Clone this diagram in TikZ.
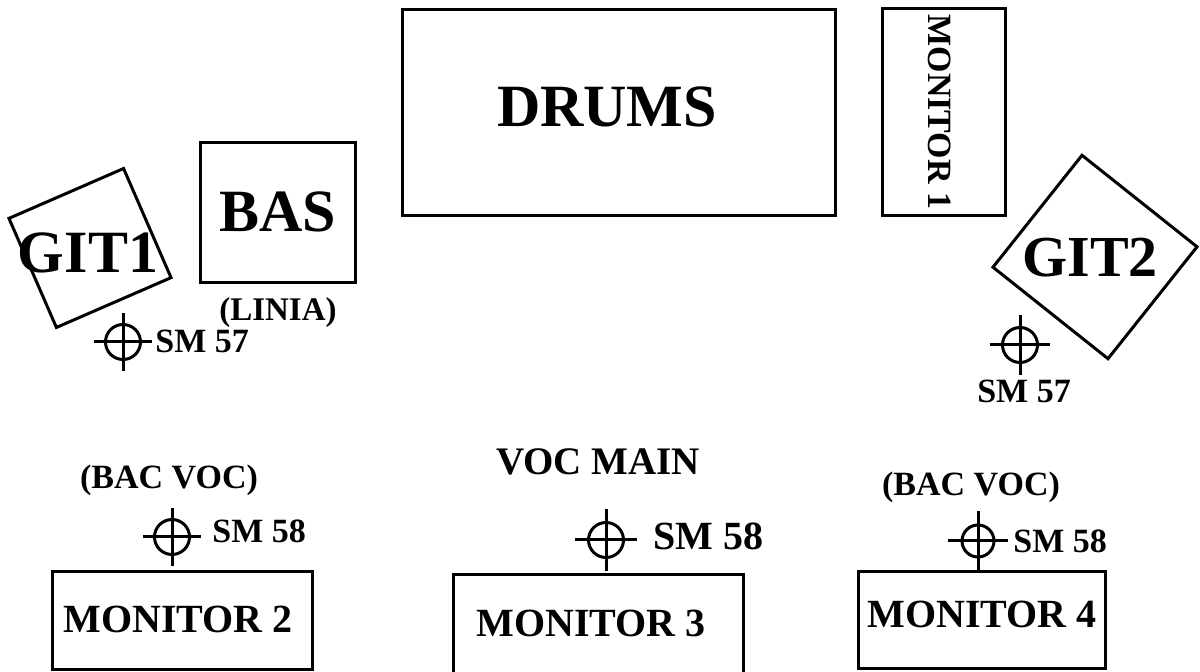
\documentclass[tikz,border=0pt]{standalone}
\usepackage{fontspec}
\setmainfont{Liberation Serif}
\begin{document}
\begin{tikzpicture}[x=0.5pt,y=-0.5pt,
  box/.style={draw, line width=1.5pt, inner sep=0pt, outer sep=0pt},
  fs/.style={font=\fontsize{#1}{#1}\selectfont\bfseries, inner sep=0pt, anchor=base},
  mic/.style={draw, circle, line width=1.5pt, minimum size=#1, inner sep=0pt},
  mic/.default=17.5pt,
  hair/.style={line width=1.5pt}]
\useasboundingbox (0,0) rectangle (1200,672);
% boxes
\node[box, minimum width=216.5pt, minimum height=103pt] (drums) at (618.5,113) {};
\node[box, minimum width=61.5pt, minimum height=103.5pt] (mon1) at (943.5,112.5) {};
\node[box, minimum width=77.5pt, minimum height=70pt] (bas) at (277.5,213) {};
\node[box, minimum width=62.5pt, minimum height=59.5pt, rotate=23.5] (git1) at (90,248) {};
\node[box, minimum width=73.5pt, minimum height=71.5pt, rotate=-38.5] (git2) at (1095,257) {};
\node[box, minimum width=130pt, minimum height=49pt] (mon2) at (182,621) {};
\node[box, minimum width=145pt, minimum height=57.5pt] (mon3) at (598,632.5) {};
\node[box, minimum width=123.5pt, minimum height=48.5pt] (mon4) at (981.5,620.5) {};
% labels
\node[fs=30pt] (drumsT) at (607,127) {DRUMS};
\node[fs=30pt] (git1T) at (88,273) {GIT1};
\node[fs=30pt] (basT) at (278,232) {BAS};
\node[fs=29pt] (git2T) at (1090,277) {GIT2};
\node[fs=16.5pt] (liniaT) at (278,321) {(LINIA)};
\node[fs=17pt, anchor=center, rotate=-90] (mon1T) at (940,112) {MONITOR 1};
\node[fs=17pt, anchor=base west] (sm57a) at (155,353) {SM 57};
\node[fs=17pt] (sm57b) at (1024,403) {SM 57};
\node[fs=17pt] (bac1) at (169,489) {(BAC VOC)};
\node[fs=17pt, anchor=base west] (sm58a) at (212,543) {SM 58};
\node[fs=19.5pt] (vocmain) at (598,475) {VOC MAIN};
\node[fs=20pt, anchor=base west] (sm58b) at (653,550) {SM 58};
\node[fs=17pt] (bac2) at (971,496) {(BAC VOC)};
\node[fs=17pt, anchor=base west] (sm58c) at (1013,553) {SM 58};
\node[fs=20pt] (mon2T) at (178,633) {MONITOR 2};
\node[fs=20pt] (mon3T) at (591,637) {MONITOR 3};
\node[fs=20pt] (mon4T) at (982,628) {MONITOR 4};
% microphones
\node[mic] (m1) at (123,342) {};
\node[mic] (m2) at (1020,345) {};
\node[mic] (m3) at (172,537) {};
\node[mic] (m4) at (606,540) {};
\node[mic=16pt] (m5) at (978,541) {};
\foreach \m/\h in {m1/14.5pt, m2/15pt, m3/14.5pt, m4/15.5pt, m5/15pt}{
  \draw[hair] ([xshift=-\h]\m.center) -- ([xshift=\h]\m.center);
  \draw[hair] ([yshift=-\h]\m.center) -- ([yshift=\h]\m.center);
}
\end{tikzpicture}
\end{document}
